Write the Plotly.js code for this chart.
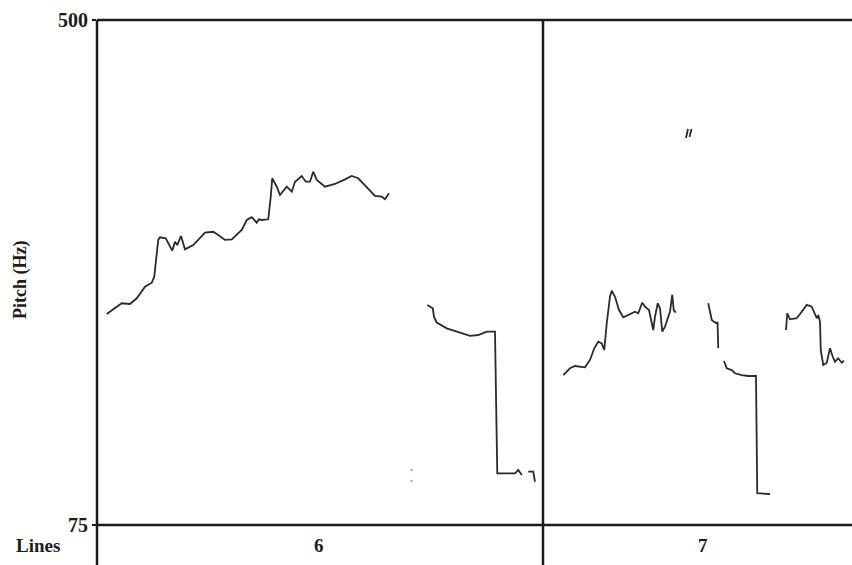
<!DOCTYPE html>
<html>
<head>
<meta charset="utf-8">
<script src="https://cdn.plot.ly/plotly-3.0.1.min.js"></script>
<style>
  html, body { margin: 0; padding: 0; background: #fff; }
  #chart { width: 852px; height: 565px; }
</style>
</head>
<body>
<div id="chart"></div>
<script>
// Pitch contour (time in s, F0 in Hz), voiced stretches kept as separate runs
const seg1Time = [0.039,0.099,0.132,0.159,0.192,0.219,0.229,0.245,0.252,0.275,0.301,0.312,0.321,0.336,0.352,0.385,0.432,0.465,0.485,0.512,0.539,0.579,0.599,0.619,0.639,0.648,0.659,0.685,0.695,0.701,0.719,0.732,0.759,0.779,0.792,0.819,0.835,0.852,0.865,0.879,0.912,0.952,0.992,1.019,1.045,1.072,1.112,1.139,1.152,1.168];
const seg1Hz   = [252.6,261.6,261.0,265.8,275.6,278.9,284.0,314.9,317.1,316.3,305.9,313.4,310.6,318.2,307.0,310.6,321.0,321.8,319.1,314.9,315.4,323.3,331.7,334.0,329.4,332.3,331.7,332.3,351.3,366.8,359.7,352.7,359.7,355.5,363.9,368.7,363.9,363.9,372.3,365.4,359.7,362.0,365.9,368.7,366.8,361.1,351.9,351.3,349.1,354.2];

const seg2Time = [1.321,1.343,1.348,1.359,1.399,1.452,1.492,1.525,1.559,1.592,1.601,1.672,1.685,1.699];
const seg2Hz   = [260.2,257.4,250.3,245.3,240.5,236.8,234.1,234.9,237.7,237.7,118.5,118.5,121.3,117.1];

const seg3Time = [1.725,1.745,1.752];
const seg3Hz   = [119.9,119.9,111.4];

const seg4Time = [1.865,1.892,1.912,1.952,1.972,1.989,2.005,2.019,2.029,2.039,2.052,2.059,2.072,2.088,2.105,2.125,2.152,2.165,2.181,2.192,2.208,2.225,2.232,2.243,2.252,2.261,2.272,2.285,2.292,2.301,2.307,2.315];
const seg4Hz   = [201.2,206.9,208.8,207.7,213.9,223.7,229.3,227.9,222.3,244.8,267.1,272.2,267.1,255.9,249.8,251.7,254.5,253.2,262.1,258.7,255.9,239.1,250.3,261.6,257.4,237.7,241.9,250.3,254.5,268.6,255.9,253.7];

const seg5Time = [2.356,2.364];
const seg5Hz   = [400.7,408.3];
const seg6Time = [2.370,2.378];
const seg6Hz   = [401.5,408.3];

const seg7Time = [2.445,2.459,2.468,2.479,2.482,2.485];
const seg7Hz   = [261.6,247.5,246.1,244.8,246.0,223.7];

const seg8Time = [2.508,2.519,2.539,2.552,2.579,2.605,2.636,2.641,2.692];
const seg8Hz   = [213.0,206.9,205.4,202.7,201.2,200.4,200.4,101.7,101.1];

const seg9Time = [2.756,2.761,2.772,2.799,2.819,2.839,2.859,2.872,2.879,2.885,2.892,2.895,2.905,2.919,2.932,2.943,2.952,2.965,2.979,2.988];
const seg9Hz   = [239.1,253.2,248.1,249.0,254.5,260.2,258.7,252.6,249.0,251.7,246.1,222.3,209.7,211.6,223.7,216.6,212.4,215.3,211.6,213.3];

// isolated faint pitch points
const dotTime = [1.258,1.258];
const dotHz   = [121.3,112.0];

// text tier "Lines"
const tierName = "Lines";
const tierBoundaries = [1.784];
const tierLabels = ["6","7"];
const tierLabelTimes = [0.888,2.424];

const yTicks = [75, 500];
const timeRange = [0, 3.02];

const runsT = [seg1Time,seg2Time,seg3Time,seg4Time,seg5Time,seg6Time,seg7Time,seg8Time,seg9Time];
const runsH = [seg1Hz,seg2Hz,seg3Hz,seg4Hz,seg5Hz,seg6Hz,seg7Hz,seg8Hz,seg9Hz];
const xs = [], ys = [];
runsT.forEach((t, i) => {
  if (i > 0) { xs.push(null); ys.push(null); }
  t.forEach((v, j) => { xs.push(v); ys.push(runsH[i][j]); });
});

const serif = "Liberation Serif, Times New Roman, serif";
const ink = "#1c1c1c";

const traces = [
  { x: xs, y: ys, type: "scatter", mode: "lines", connectgaps: false,
    line: { color: "#2b2b2b", width: 1.8 }, hoverinfo: "skip", showlegend: false },
  { x: dotTime, y: dotHz, type: "scatter", mode: "markers",
    marker: { color: "#aaa", size: 2.5 }, hoverinfo: "skip", showlegend: false }
];

const belowTier = -40 / 505;
const shapes = [
  { type: "line", xref: "paper", yref: "paper", x0: 0, x1: 1, y0: 1, y1: 1, line: { color: ink, width: 2.5 } },
  { type: "line", xref: "paper", yref: "paper", x0: 0, x1: 1, y0: 0, y1: 0, line: { color: ink, width: 2.5 } },
  { type: "line", xref: "paper", yref: "paper", x0: 0, x1: 0, y0: 1, y1: belowTier, line: { color: ink, width: 2.5 } }
];
tierBoundaries.forEach(b => shapes.push(
  { type: "line", xref: "x", yref: "paper", x0: b, x1: b, y0: 1, y1: belowTier, line: { color: ink, width: 2.5 } }
));

const annotations = [
  { text: "<b>Pitch (Hz)</b>", xref: "paper", yref: "paper", x: -77 / 755, y: 245 / 505,
    textangle: -90, showarrow: false, xanchor: "center", yanchor: "middle",
    font: { family: serif, size: 18, color: ink } },
  { text: "<b>" + tierName + "</b>", xref: "paper", yref: "paper", x: -97 / 755 + 14 / 755, y: -20 / 505,
    showarrow: false, xanchor: "left", yanchor: "middle",
    font: { family: serif, size: 19, color: ink } }
];
tierLabels.forEach((lab, i) => annotations.push(
  { text: "<b>" + lab + "</b>", xref: "x", yref: "paper", x: tierLabelTimes[i], y: -20 / 505,
    showarrow: false, xanchor: "center", yanchor: "middle",
    font: { family: serif, size: 19, color: ink } }
));

const layout = {
  width: 852, height: 565,
  margin: { l: 97, r: 0, t: 20, b: 40, pad: 0 },
  paper_bgcolor: "#fff", plot_bgcolor: "#fff",
  showlegend: false,
  xaxis: { range: timeRange, showgrid: false, zeroline: false, showticklabels: false,
           ticks: "", showline: false, fixedrange: true },
  yaxis: { range: [75, 500], tickvals: yTicks, ticktext: yTicks.map(String),
           showgrid: false, zeroline: false, showline: false,
           ticks: "outside", ticklen: 4, tickwidth: 2, tickcolor: ink,
           ticklabelstandoff: 0,
           tickfont: { family: serif, size: 20, color: ink, weight: "bold" }, fixedrange: true },
  shapes: shapes,
  annotations: annotations
};

Plotly.newPlot("chart", traces, layout, { staticPlot: true, displayModeBar: false });
</script>
</body>
</html>
